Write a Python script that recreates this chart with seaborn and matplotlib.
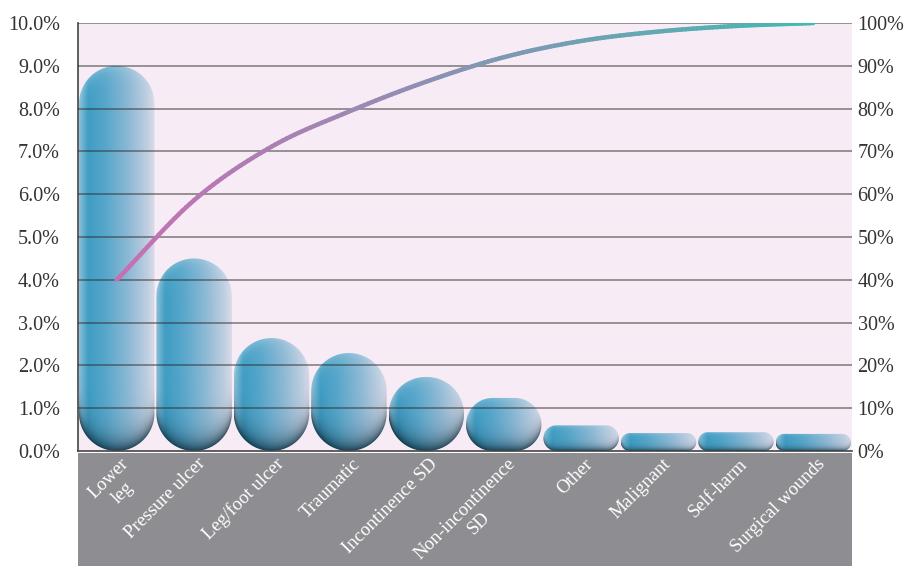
import numpy as np
import pandas as pd
import seaborn as sns
import matplotlib.pyplot as plt
from matplotlib.colors import LinearSegmentedColormap, to_rgb
from matplotlib.collections import LineCollection
from matplotlib.patches import Polygon, Rectangle
from matplotlib.ticker import FuncFormatter, MultipleLocator
from matplotlib.transforms import blended_transform_factory

# ----------- Data -----------
categories = ['Lower\nleg', 'Pressure ulcer', 'Leg/foot ulcer', 'Traumatic',
              'Incontinence SD', 'Non-incontinence\nSD', 'Other', 'Malignant',
              'Self-harm', 'Surgical wounds']
prevalence = [9.0, 4.5, 2.64, 2.29, 1.73, 1.24, 0.6, 0.42, 0.44, 0.4]     # % (left axis)
cumulative = [40, 58.6, 71.1, 79.3, 86.3, 92.0, 95.8, 98.0, 99.3, 100]    # % (right axis)

df = pd.DataFrame({'category': categories, 'prevalence': prevalence})

# ----------- Figure -----------
sns.set_style('white')
plt.rcParams['font.family'] = ['Liberation Serif', 'DejaVu Serif']

W, H = 906, 566
fig = plt.figure(figsize=(W / 100, H / 100), dpi=100)
ax = fig.add_axes([78 / W, 115 / H, 774 / W, 428 / H])
ax.set_facecolor('#f7ecf5')

# grey band under the plot for the category labels
fig.add_artist(Rectangle((78 / W, 0), 774 / W, 113 / H, transform=fig.transFigure,
                         facecolor='#8e8e92', edgecolor='none', zorder=-1))

sns.barplot(data=df, x='category', y='prevalence', ax=ax, width=0.975,
            color='#3f9dc4', zorder=2)
ax.set_xlim(-0.5, len(categories) - 0.5)
ax.set_ylim(0, 10)

# px per data unit
px_x = 774 / len(categories)
px_y = 428 / 10

# horizontal colour profile of the capsules
base_cmap = LinearSegmentedColormap.from_list('capsule', [
    (0.0, '#8cc0d8'), (0.12, '#3f9dc4'), (0.35, '#58a7cb'),
    (0.65, '#8db9d5'), (0.88, '#bccde0'), (1.0, '#dcdce8')])
dark = np.array(to_rgb('#0b2b3b'))
light = np.array(to_rgb('#d6e6f0'))

def capsule(x0, w, h):
    wp, hp = w * px_x, h * px_y
    r = min(wp, hp) / 2
    rx, ry = r / px_x, r / px_y
    t = np.linspace(0, np.pi / 2, 20)
    pts = []
    for cx, cy, a0 in [(x0 + w - rx, h - ry, 0), (x0 + rx, h - ry, np.pi / 2),
                       (x0 + rx, ry, np.pi), (x0 + w - rx, ry, 1.5 * np.pi)]:
        pts += list(zip(cx + rx * np.cos(t + a0), cy + ry * np.sin(t + a0)))
    return pts

def shading(w, h):
    wp, hp = w * px_x, h * px_y
    r = min(wp, hp) / 2
    nx, ny = max(int(wp), 2), max(int(hp), 2)
    xs = np.arange(nx) + 0.5
    ys = hp - (np.arange(ny) + 0.5) * hp / ny
    X, Y = np.meshgrid(xs, ys)
    dx = np.where(X < r, r - X, np.where(X > wp - r, X - (wp - r), 0))
    yb = r - np.sqrt(np.clip(r ** 2 - dx ** 2, 0, None))
    d_bot = np.clip(Y - yb, 0, None)
    d_top = np.clip(hp - yb - Y, 0, None)
    img = base_cmap(X / wp)[..., :3]
    f_dark = 0.85 * np.exp(-d_bot / (0.3 * r))
    f_light = 0.35 * np.exp(-d_top / (0.18 * r))
    img = img * (1 - f_dark[..., None]) + dark * f_dark[..., None]
    img = img * (1 - f_light[..., None]) + light * f_light[..., None]
    return img

for p in ax.patches:
    x0, w, h = p.get_x(), p.get_width(), p.get_height()
    p.set_visible(False)
    clip = Polygon(capsule(x0, w, h), closed=True, transform=ax.transData,
                   facecolor='none', edgecolor='none')
    ax.add_patch(clip)
    im = ax.imshow(shading(w, h), extent=[x0, x0 + w, 0, h], aspect='auto',
                   interpolation='bilinear', zorder=2)
    im.set_clip_path(clip)

ax.set_xlim(-0.5, len(categories) - 0.5)
ax.set_ylim(0, 10)

# grid lines drawn over the capsules
for v in range(1, 11):
    ax.axhline(v, color='#2b2b2b', alpha=0.6, lw=1.1, zorder=3)

ax.yaxis.set_major_locator(MultipleLocator(1))
ax.yaxis.set_major_formatter(FuncFormatter(lambda v, _: f'{v:.1f}%'))
ax.tick_params(axis='y', length=0, pad=13, labelsize=14.5, labelcolor='#333333')
ax.tick_params(axis='x', length=0, labelbottom=False)
ax.set_xlabel('')
ax.set_ylabel('')
for s in ['top', 'right']:
    ax.spines[s].set_visible(False)
ax.spines['left'].set_color('#444444')
ax.spines['bottom'].set_color('#444444')
ax.spines['left'].set_linewidth(1.2)
ax.spines['bottom'].set_linewidth(1.2)

# category labels, white on the grey band
trans = blended_transform_factory(ax.transData, ax.transAxes)
for i, name in enumerate(categories):
    ax.text(i + 0.04, -0.01, name, transform=trans, rotation=45,
            rotation_mode='anchor', ha='right', va='top', multialignment='center',
            fontsize=13.5, color='white', clip_on=False)

# ----------- Cumulative line (right axis) -----------
ax2 = ax.twinx()
ax2.set_ylim(0, 100)
ax2.yaxis.set_major_locator(MultipleLocator(10))
ax2.yaxis.set_major_formatter(FuncFormatter(lambda v, _: f'{int(v)}%'))
ax2.tick_params(axis='y', length=0, pad=4, labelsize=14.5, labelcolor='#333333')
for s in ax2.spines.values():
    s.set_visible(False)

# smoothed line (Catmull-Rom through the read points), coloured pink -> teal
pts = np.column_stack([np.arange(len(cumulative)), cumulative]).astype(float)
ext = np.vstack([2 * pts[0] - pts[1], pts, 2 * pts[-1] - pts[-2]])
curve = []
for i in range(1, len(ext) - 2):
    p0, p1, p2, p3 = ext[i - 1], ext[i], ext[i + 1], ext[i + 2]
    for t in np.linspace(0, 1, 20, endpoint=False):
        curve.append(0.5 * (2 * p1 + (p2 - p0) * t
                            + (2 * p0 - 5 * p1 + 4 * p2 - p3) * t ** 2
                            + (3 * p1 - p0 - 3 * p2 + p3) * t ** 3))
curve.append(pts[-1])
curve = np.array(curve)
segs = np.stack([curve[:-1], curve[1:]], axis=1)
frac = (segs[:, 0, 0] + segs[:, 1, 0]) / 2 / pts[-1, 0]
c0, c1 = np.array(to_rgb('#c86fb4')), np.array(to_rgb('#44bab1'))
cols = c0 * (1 - frac[:, None]) + c1 * frac[:, None]
ax2.add_collection(LineCollection(segs, colors=cols, linewidths=3.2,
                                  capstyle='round', zorder=4))
ax2.set_xlim(-0.5, len(categories) - 0.5)

fig.savefig('out.png', dpi=100)
